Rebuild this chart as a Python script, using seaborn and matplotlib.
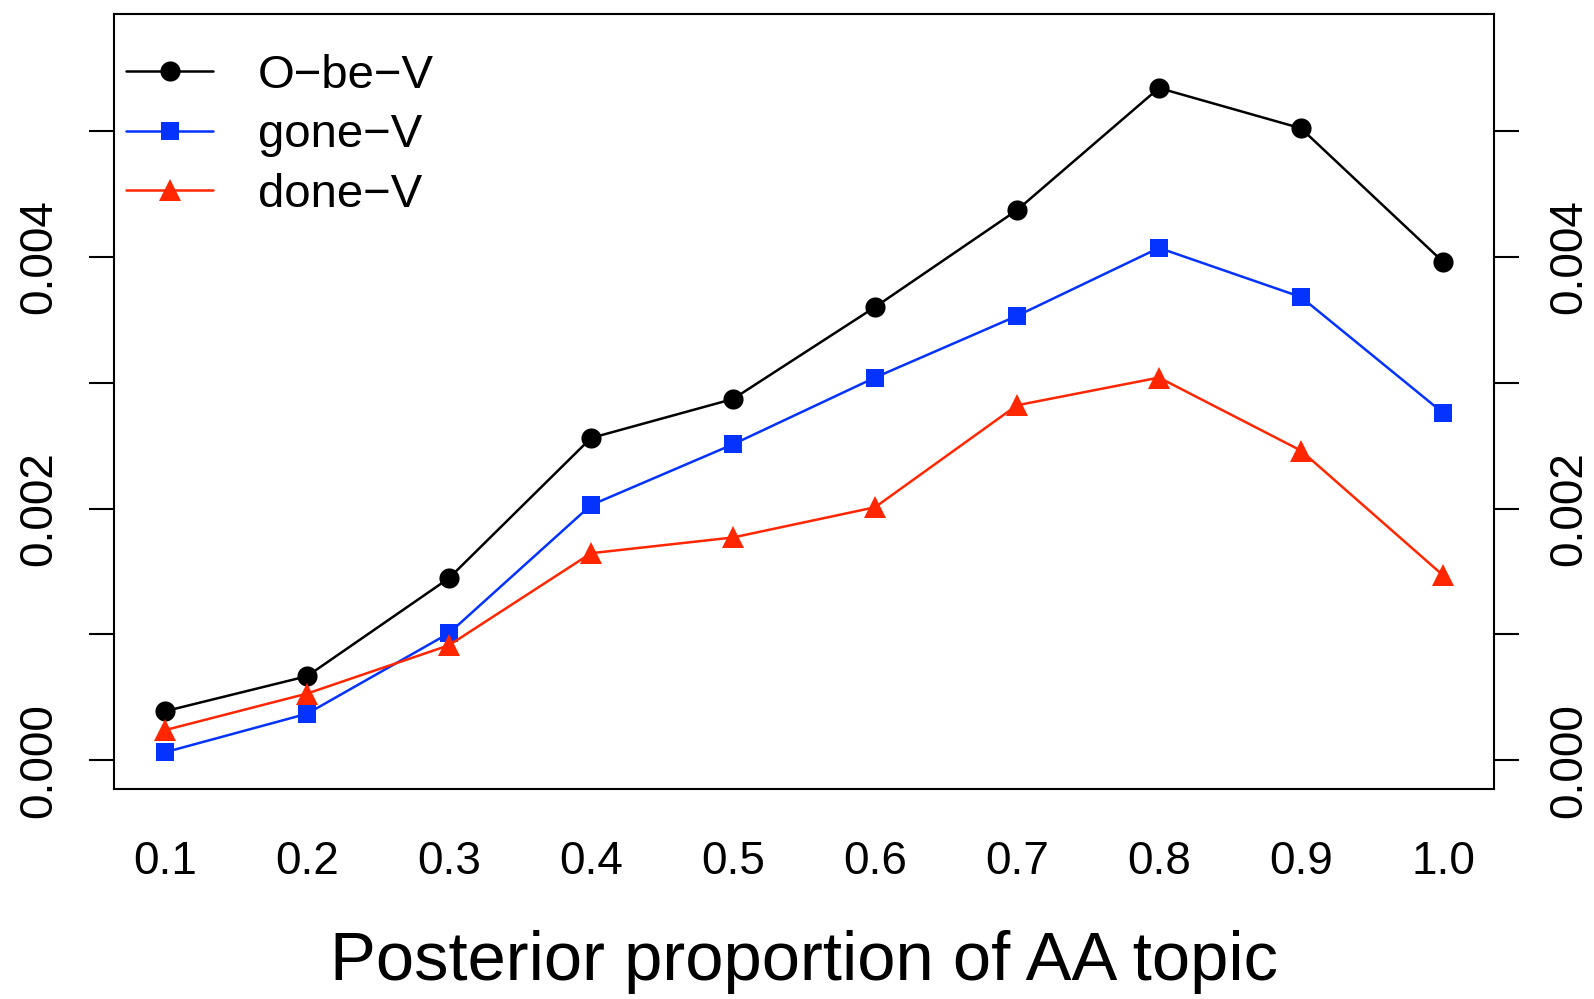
import matplotlib
matplotlib.use("Agg")
import matplotlib.pyplot as plt
import pandas as pd
import seaborn as sns

# x positions (posterior proportion of the AA topic)
PROPORTION = [0.1, 0.2, 0.3, 0.4, 0.5, 0.6, 0.7, 0.8, 0.9, 1.0]

# series values
O_BE_V = [0.00039, 0.000668, 0.001447, 0.00256, 0.00287, 0.00360, 0.00437, 0.00534, 0.00502, 0.00396]
GONE_V = [0.000064, 0.00037, 0.00101, 0.002027, 0.00251, 0.00304, 0.00353, 0.00407, 0.00368, 0.00276]
DONE_V = [0.00024, 0.00053, 0.000914, 0.001645, 0.00177, 0.00201, 0.00282, 0.00304, 0.00246, 0.00147]

SERIES_NAMES = ["O\u2212be\u2212V", "gone\u2212V", "done\u2212V"]
X_TICKS = [0.1, 0.2, 0.3, 0.4, 0.5, 0.6, 0.7, 0.8, 0.9, 1.0]
X_TICK_LABELS = ["0.1", "0.2", "0.3", "0.4", "0.5", "0.6", "0.7", "0.8", "0.9", "1.0"]
Y_TICKS = [0.0, 0.001, 0.002, 0.003, 0.004, 0.005]
Y_TICK_LABELS = ["0.000", "", "0.002", "", "0.004", ""]

STYLES = {
    "O\u2212be\u2212V": dict(color="black", marker="o", markersize=14.5),
    "gone\u2212V": dict(color="#0433FF", marker="s", markersize=13),
    "done\u2212V": dict(color="#FF2600", marker="^", markersize=15.5),
}


def main():
    sns.set_style("white")
    plt.rcParams["font.family"] = ["Liberation Sans", "DejaVu Sans"]
    plt.rcParams["text.color"] = "black"
    plt.rcParams["axes.labelcolor"] = "black"
    plt.rcParams["xtick.color"] = "black"
    plt.rcParams["ytick.color"] = "black"

    df = pd.DataFrame({
        "proportion": PROPORTION * 3,
        "value": O_BE_V + GONE_V + DONE_V,
        "series": [n for n in SERIES_NAMES for _ in PROPORTION],
    })

    fig = plt.figure(figsize=(15.94, 9.99), dpi=100)
    ax = fig.add_axes([0.0715, 0.2102, 0.9373 - 0.0715, 0.986 - 0.2102])

    for name in SERIES_NAMES:
        sub = df[df["series"] == name]
        st = STYLES[name]
        sns.lineplot(
            data=sub, x="proportion", y="value", ax=ax,
            color=st["color"], marker=st["marker"], markersize=st["markersize"],
            markeredgewidth=0, linewidth=1.8, label=name,
        )

    ax.set_xlim(0.064, 1.036)
    ax.set_ylim(-0.000228, 0.005928)

    ax.set_xticks(X_TICKS)
    ax.set_xticklabels(X_TICK_LABELS)
    ax.set_yticks(Y_TICKS)
    ax.set_yticklabels(Y_TICK_LABELS)

    ax.tick_params(axis="x", length=18, width=1.5, pad=19, labelsize=33,
                   color="black", labelcolor="black")
    ax.tick_params(axis="y", length=18, width=1.5, pad=20, labelsize=33,
                   color="black", labelcolor="black",
                   left=True, right=True, labelleft=True, labelright=True)
    for lab in ax.get_yticklabels(which="both"):
        lab.set_rotation(90)
        lab.set_va("center")

    for spine in ax.spines.values():
        spine.set_color("black")
        spine.set_linewidth(1.5)

    ax.set_ylabel("")
    ax.set_xlabel("Posterior proportion of AA topic", fontsize=49.5, labelpad=33,
                  color="black")

    ax.legend(
        loc="upper left", bbox_to_anchor=(0.0087, 0.949), frameon=False,
        fontsize=34, handlelength=1.85, handletextpad=0.95, labelspacing=0.33,
        borderpad=0, borderaxespad=0,
    )

    fig.savefig("out.png", dpi=100)
    plt.close(fig)


if __name__ == "__main__":
    main()
